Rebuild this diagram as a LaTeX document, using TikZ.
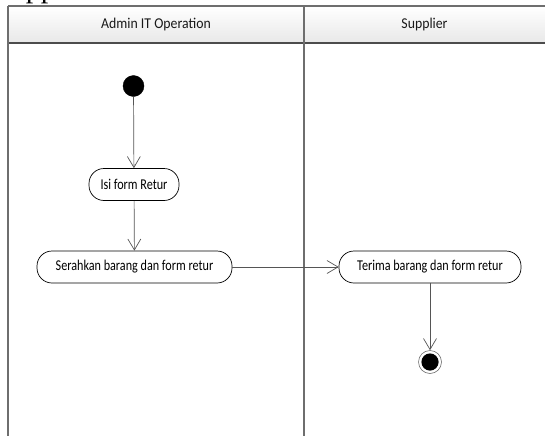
\documentclass[tikz,border=0pt]{standalone}
\usepackage{fontspec}
\setmainfont{Carlito}
\newfontfamily\captionserif{Liberation Serif}
\newfontfamily\actionfont[FakeStretch=0.81]{Carlito}
\newfontfamily\lanefont[FakeStretch=0.92]{Carlito}
\usetikzlibrary{arrows.meta}

\definecolor{frameline}{HTML}{6E6E6E}
\definecolor{flowline}{HTML}{555555}

\tikzset{
  lanehead/.style={font=\lanefont\fontsize{15}{17}\selectfont, text=black!90},
  action/.style={draw=black, line width=0.7pt, fill=white, rounded corners=15pt,
    minimum height=32pt, inner sep=0pt, font=\actionfont\fontsize{15}{17}\selectfont},
  startdot/.style={circle, fill=black, draw=black, minimum size=21pt, inner sep=0pt},
  enddot/.style={circle, draw=frameline, line width=0.6pt, fill=white,
    minimum size=23pt, inner sep=0pt,
    path picture={\fill[black] (path picture bounding box.center) circle (8.6pt);}},
  flow/.style={draw=flowline, line width=0.7pt,
    -{Straight Barb[length=11pt,width=13pt,line width=0.7pt]}},
  frame/.style={draw=frameline, line width=1.6pt},
}

\begin{document}
\begin{tikzpicture}[x=1pt, y=-1pt]
\useasboundingbox (0,0) rectangle (545,436);

% caption text running in from above the page
\begin{scope}
  \clip (0,0) rectangle (545,436);
  \node[anchor=base west, inner sep=0pt, font=\captionserif\fontsize{30}{30}\selectfont]
    (caption) at (-6,-2.5) {Supplier};
\end{scope}

% swimlane header band
\shade[top color=white, bottom color=black!9] (8,6) rectangle (545,43);
\draw[frame] (8,6) -- (545,6);
\draw[draw=black!70, line width=1.6pt] (8,43) -- (545,43);
\draw[frame] (8,6) -- (8,436);
\draw[frame, line width=2pt] (304,6) -- (304,436);

\node[lanehead] (laneA) at (156,24.5) {Admin IT Operation};
\node[lanehead] (laneB) at (424.5,24.5) {Supplier};

% activity nodes
\node[startdot] (start) at (133.5,86) {};
\node[action, minimum width=90pt] (isi) at (134,184.5) {Isi form Retur};
\node[action, minimum width=195pt] (serah) at (134.5,267) {Serahkan barang dan form retur};
\node[action, minimum width=182pt] (terima) at (430,267) {Terima barang dan form retur};
\node[enddot] (stop) at (430,362) {};

% control flow
\draw[flow] (start) -- (isi);
\draw[flow] (isi) -- (serah);
\draw[flow] (serah) -- (terima);
\draw[flow] (terima) -- (stop);
\end{tikzpicture}
\end{document}
